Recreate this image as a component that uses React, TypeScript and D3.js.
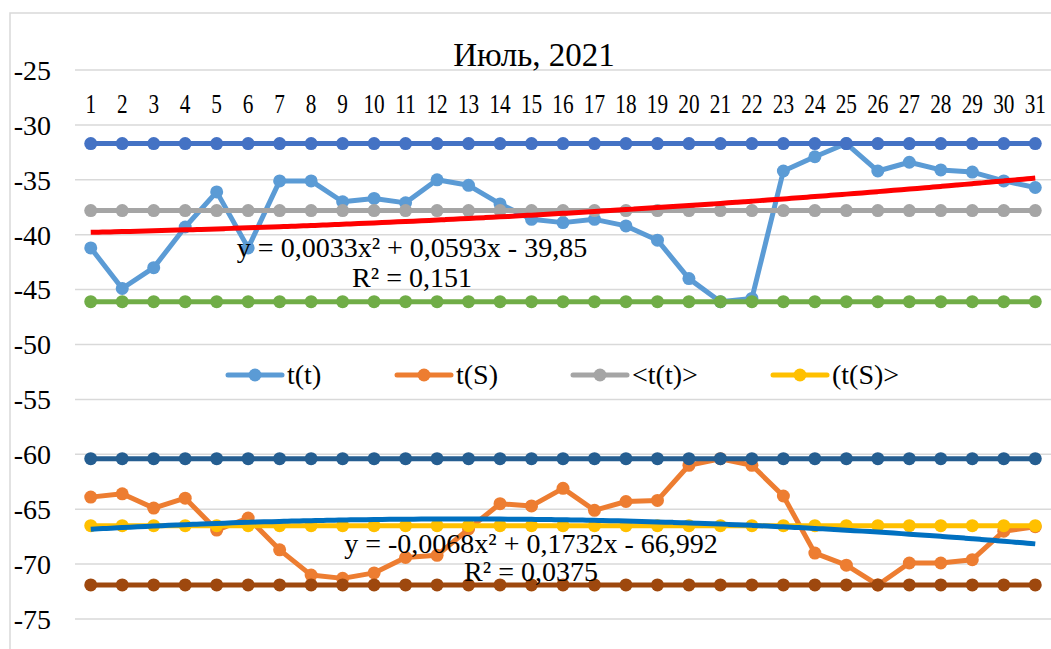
import React from "react";
import * as d3 from "d3";

const days = ["1","2","3","4","5","6","7","8","9","10","11","12","13","14","15","16","17","18","19","20","21","22","23","24","25","26","27","28","29","30","31"];

const tT = [-41.2, -44.9, -43.0, -39.3, -36.1, -41.2, -35.1, -35.1, -37.0, -36.7, -37.1, -35.0, -35.5, -37.2, -38.6, -38.9, -38.6, -39.2, -40.5, -44.0, -46.1, -45.8, -34.2, -32.9, -31.7, -34.2, -33.4, -34.1, -34.3, -35.1, -35.7];
const tS = [-63.9, -63.6, -64.9, -64.0, -66.9, -65.8, -68.7, -71.0, -71.3, -70.8, -69.4, -69.2, -66.8, -64.5, -64.7, -63.1, -65.1, -64.3, -64.2, -61.0, -60.4, -61.0, -63.8, -69.0, -70.1, -71.9, -69.9, -69.9, -69.6, -67.0, -66.6];

const tTMean = -37.8;
const tSMean = -66.5;
const tTMax = -31.7;
const tTMin = -46.1;
const tSMax = -60.4;
const tSMin = -71.9;

const trendTCoef = [0.0033, 0.0593, -39.85];
const trendSCoef = [-0.0068, 0.1732, -66.992];
const trendTLabel = ["y = 0,0033x² + 0,0593x - 39,85", "R² = 0,151"];
const trendSLabel = ["y = -0,0068x² + 0,1732x - 66,992", "R² = 0,0375"];

const yTicks = [-75, -70, -65, -60, -55, -50, -45, -40, -35, -30, -25];
const title = "Июль, 2021";

const legendItems = [
  { name: "t(t)", color: "#5B9BD5" },
  { name: "t(S)", color: "#ED7D31" },
  { name: "<t(t)>", color: "#A5A5A5" },
  { name: "(t(S)>", color: "#FFC000" },
];

const W = 1051, H = 649;
const FONT = "'Liberation Serif', 'Times New Roman', serif";

export default function App() {
  const x = d3.scaleBand<string>().domain(days).range([75, 1051]).paddingInner(0).paddingOuter(0);
  const cx = (d: string) => (x(d) as number) + x.bandwidth() / 2;
  const y = d3.scaleLinear().domain([-75, -25]).range([619, 70]);

  const line = d3.line<[number, number]>().x((d) => d[0]).y((d) => d[1]);

  const series = [
    { vals: tT, color: "#5B9BD5" },
    { vals: tS, color: "#ED7D31" },
    { vals: days.map(() => tTMean), color: "#A5A5A5" },
    { vals: days.map(() => tSMean), color: "#FFC000" },
    { vals: days.map(() => tTMax), color: "#4472C4" },
    { vals: days.map(() => tTMin), color: "#70AD47" },
    { vals: days.map(() => tSMax), color: "#255E91" },
    { vals: days.map(() => tSMin), color: "#9E480E" },
  ];

  const xNum = d3.scaleLinear().domain([1, 31]).range([cx("1"), cx("31")]);
  const trendPath = (c: number[]) => {
    const pts: [number, number][] = d3.range(1, 31.01, 0.25).map((t) => [xNum(t), y(c[0] * t * t + c[1] * t + c[2])]);
    return d3.line<[number, number]>().curve(d3.curveMonotoneX)(pts) as string;
  };

  const legendX = [228, 397, 573, 773];

  return (
    <svg width={W} height={H} style={{ position: "fixed", left: 0, top: 0, background: "#fff" }} fontFamily={FONT}>
      <rect x={0} y={0} width={W} height={H} fill="#fff" />
      <rect x={10} y={13} width={W + 10} height={H + 10} fill="none" stroke="#d9d9d9" strokeWidth={1.5} />
      {yTicks.map((t) => (
        <g key={t}>
          <line x1={75} x2={W} y1={y(t)} y2={y(t)} stroke="#d9d9d9" strokeWidth={1.5} />
          <text x={51} y={y(t)} dy="0.35em" textAnchor="end" fontSize={28} fill="#000">{t}</text>
        </g>
      ))}
      <text x={534} y={66} textAnchor="middle" fontSize={33} fill="#000">{title}</text>
      {days.map((d) => (
        <text key={d} transform={`translate(${cx(d)},${113}) scale(0.76,1)`} textAnchor="middle" fontSize={28} fill="#000">{d}</text>
      ))}
      {series.map((s, i) => (
        <g key={i}>
          <path d={line(s.vals.map((v, j) => [cx(days[j]), y(v)] as [number, number])) as string} fill="none" stroke={s.color} strokeWidth={5} strokeLinejoin="round" />
          {s.vals.map((v, j) => (
            <circle key={j} cx={cx(days[j])} cy={y(v)} r={6.5} fill={s.color} />
          ))}
        </g>
      ))}
      <path d={trendPath(trendTCoef)} fill="none" stroke="#FF0000" strokeWidth={5} />
      <path d={trendPath(trendSCoef)} fill="none" stroke="#0070C0" strokeWidth={5} />
      <text x={412} y={257} textAnchor="middle" fontSize={28} fill="#000">{trendTLabel[0]}</text>
      <text x={412} y={287} textAnchor="middle" fontSize={28} fill="#000">{trendTLabel[1]}</text>
      <text x={531} y={553} textAnchor="middle" fontSize={28} fill="#000">{trendSLabel[0]}</text>
      <text x={531} y={581} textAnchor="middle" fontSize={28} fill="#000">{trendSLabel[1]}</text>
      {legendItems.map((it, i) => (
        <g key={it.name} transform={`translate(${legendX[i]},375)`}>
          <line x1={0} x2={54} y1={0} y2={0} stroke={it.color} strokeWidth={5} strokeLinecap="round" />
          <circle cx={27} cy={0} r={6.5} fill={it.color} />
          <text x={59} y={0} dy="0.33em" fontSize={28} fill="#000">{it.name}</text>
        </g>
      ))}
    </svg>
  );
}
